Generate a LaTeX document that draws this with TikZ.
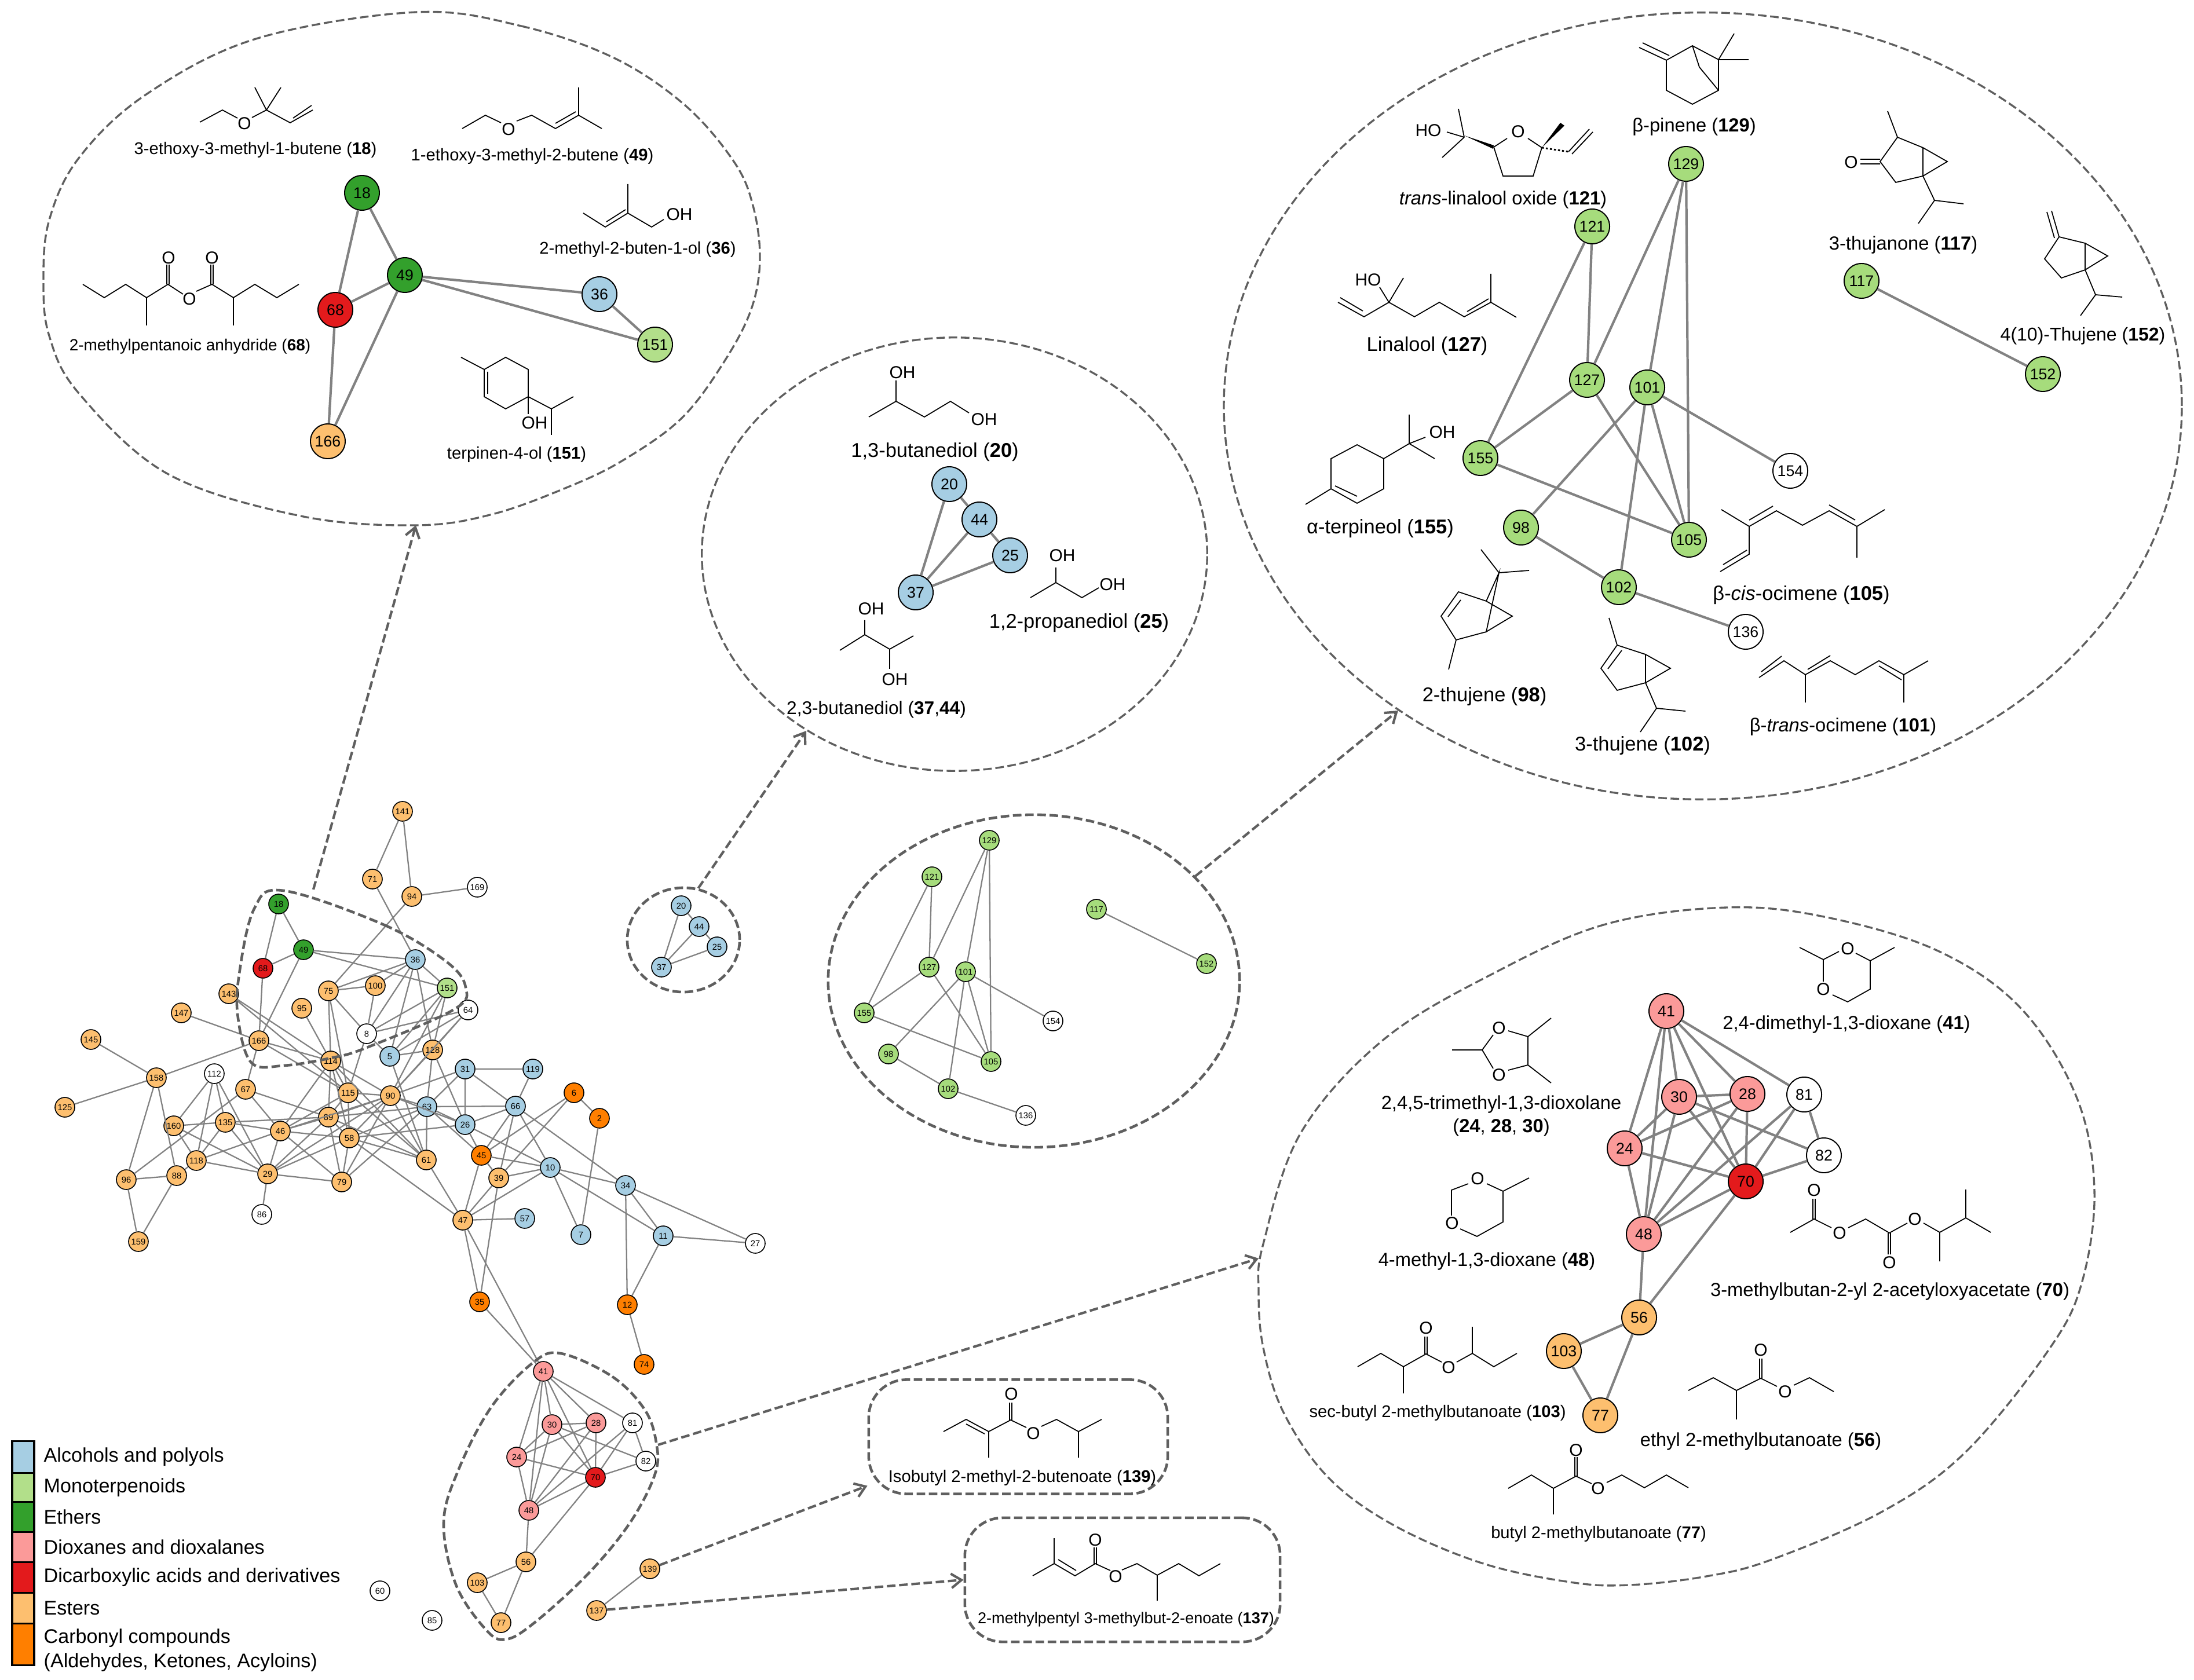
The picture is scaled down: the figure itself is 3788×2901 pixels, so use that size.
\documentclass[tikz,border=0pt]{standalone}
\usepackage{fontspec}
\setmainfont{Liberation Sans}
\setsansfont{Liberation Sans}
\usetikzlibrary{positioning, arrows.meta, shapes.geometric}

\definecolor{alcoholc}{HTML}{A6CEE3}
\definecolor{monoc}{HTML}{B2DF8A}
\definecolor{monodeep}{HTML}{A6DC7C}
\definecolor{etherc}{HTML}{33A02C}
\definecolor{dioxc}{HTML}{FB9A99}
\definecolor{dicarbc}{HTML}{E31A1C}
\definecolor{esterc}{HTML}{FDBF6F}
\definecolor{carbonylc}{HTML}{FF7F00}
\definecolor{dashgray}{HTML}{5F5F5F}
\definecolor{edgegray}{HTML}{828282}

\begin{document}
\begin{tikzpicture}[
		x=0.01cm, y=-0.01cm, font=\sffamily,
		% Define styles
		netnode/.style={circle, draw=black, line width=0.45pt, inner sep=0pt, minimum size=0.34cm, font=\sffamily\fontsize{4.2}{5}\selectfont},
		bignode/.style={circle, draw=black, line width=0.55pt, inner sep=0pt, minimum size=0.6cm, font=\sffamily\fontsize{7.6}{9}\selectfont},
		alcohol/.style={fill=alcoholc},
		mono/.style={fill=monoc},
		monob/.style={fill=monodeep},
		ether/.style={fill=etherc},
		diox/.style={fill=dioxc},
		dicarb/.style={fill=dicarbc},
		ester/.style={fill=esterc},
		carbonyl/.style={fill=carbonylc},
		unknown/.style={fill=white},
		netedge/.style={draw=edgegray, line width=0.65pt},
		bigedge/.style={draw=edgegray, line width=1.2pt},
		ringthin/.style={ellipse, draw=dashgray, line width=0.95pt, dash pattern=on 4.2pt off 1.8pt, inner sep=0pt},
		ringcurve/.style={draw=dashgray, line width=0.95pt, dash pattern=on 4.2pt off 1.8pt},
		ringthick/.style={ellipse, draw=dashgray, line width=1.3pt, dash pattern=on 4.2pt off 1.8pt, inner sep=0pt},
		blob/.style={draw=dashgray, line width=1.3pt, dash pattern=on 4.2pt off 1.8pt},
		namebox/.style={rectangle, rounded corners=0.65cm, draw=dashgray, line width=1.3pt, dash pattern=on 4.2pt off 1.8pt, inner sep=0pt},
		zoomarrow/.style={draw=dashgray, line width=1.2pt, dash pattern=on 4.2pt off 1.8pt, -{Straight Barb[length=5pt, width=7pt]}},
		bond/.style={draw=black, line width=0.5pt},
		atom/.style={inner sep=0pt, font=\sffamily\fontsize{8.5}{10}\selectfont},
		lab/.style={inner sep=0pt, align=center, font=\sffamily\fontsize{9.3}{11.4}\selectfont},
		labsmall/.style={inner sep=0pt, align=center, font=\sffamily\fontsize{8.3}{10}\selectfont},
		labbig/.style={inner sep=0pt, align=center, font=\sffamily\fontsize{9.8}{11.4}\selectfont},
		swatch/.style={rectangle, draw=black, line width=1pt, inner sep=0pt, outer sep=0pt, minimum width=0.38cm},
		legendtext/.style={inner sep=0pt, align=left, font=\sffamily\fontsize{9.7}{12}\selectfont}
		]
		\useasboundingbox (0,0) rectangle (3788,2901);
		
		% 1. Main network (esters)
		\node[netnode, ester] (m141) at (695,1401) {141};
		\node[netnode, ester] (m71) at (643,1518) {71};
		\node[netnode, ester] (m94) at (711,1548) {94};
		\node[netnode, ester] (m75) at (567,1711) {75};
		\node[netnode, ester] (m100) at (648,1702) {100};
		\node[netnode, ester] (m143) at (395,1716) {143};
		\node[netnode, ester] (m147) at (313,1749) {147};
		\node[netnode, ester] (m95) at (521,1741) {95};
		\node[netnode, ester] (m145) at (157,1795) {145};
		\node[netnode, ester] (m166) at (447,1797) {166};
		\node[netnode, ester] (m128) at (747,1813) {128};
		\node[netnode, ester] (m114) at (571,1832) {114};
		\node[netnode, ester] (m158) at (270,1861) {158};
		\node[netnode, ester] (m67) at (424,1881) {67};
		\node[netnode, ester] (m125) at (112,1912) {125};
		\node[netnode, ester] (m115) at (601,1887) {115};
		\node[netnode, ester] (m90) at (674,1892) {90};
		\node[netnode, ester] (m89) at (567,1929) {89};
		\node[netnode, ester] (m135) at (389,1938) {135};
		\node[netnode, ester] (m160) at (300,1944) {160};
		\node[netnode, ester] (m46) at (484,1953) {46};
		\node[netnode, ester] (m58) at (603,1965) {58};
		\node[netnode, ester] (m118) at (339,2004) {118};
		\node[netnode, ester] (m88) at (305,2030) {88};
		\node[netnode, ester] (m61) at (736,2003) {61};
		\node[netnode, ester] (m29) at (462,2027) {29};
		\node[netnode, ester] (m96) at (218,2037) {96};
		\node[netnode, ester] (m79) at (590,2041) {79};
		\node[netnode, ester] (m159) at (239,2144) {159};
		\node[netnode, ester] (m39) at (861,2034) {39};
		\node[netnode, ester] (m47) at (799,2107) {47};
		\node[netnode, ester] (m56) at (908,2697) {56};
		\node[netnode, ester] (m103) at (824,2733) {103};
		\node[netnode, ester] (m77) at (865,2802) {77};
		\node[netnode, ester] (m139) at (1122,2709) {139};
		\node[netnode, ester] (m137) at (1030,2781) {137};
		% Unassigned
		\node[netnode, unknown] (m169) at (824,1532) {169};
		\node[netnode, unknown] (m8) at (633,1785) {8};
		\node[netnode, unknown] (m112) at (370,1854) {112};
		\node[netnode, unknown] (m86) at (452,2097) {86};
		\node[netnode, unknown] (m64) at (808,1744) {64};
		\node[netnode, unknown] (m27) at (1304,2147) {27};
		\node[netnode, unknown] (m81) at (1092,2457) {81};
		\node[netnode, unknown] (m82) at (1115,2523) {82};
		\node[netnode, unknown] (m60) at (656,2747) {60};
		\node[netnode, unknown] (m85) at (746,2798) {85};
		% Alcohols
		\node[netnode, alcohol] (m36) at (717,1657) {36};
		\node[netnode, alcohol] (m5) at (673,1824) {5};
		\node[netnode, alcohol] (m31) at (803,1846) {31};
		\node[netnode, alcohol] (m119) at (920,1846) {119};
		\node[netnode, alcohol] (m66) at (890,1910) {66};
		\node[netnode, alcohol] (m63) at (737,1911) {63};
		\node[netnode, alcohol] (m26) at (803,1942) {26};
		\node[netnode, alcohol] (m10) at (950,2016) {10};
		\node[netnode, alcohol] (m34) at (1080,2047) {34};
		\node[netnode, alcohol] (m57) at (906,2104) {57};
		\node[netnode, alcohol] (m7) at (1003,2132) {7};
		\node[netnode, alcohol] (m11) at (1145,2134) {11};
		\node[netnode, alcohol] (m20) at (1176,1564) {20};
		\node[netnode, alcohol] (m44) at (1207,1600) {44};
		\node[netnode, alcohol] (m25) at (1238,1635) {25};
		\node[netnode, alcohol] (m37) at (1142,1670) {37};
		% Ethers, acids, dioxanes, carbonyls
		\node[netnode, ether] (m18) at (481,1561) {18};
		\node[netnode, ether] (m49) at (524,1640) {49};
		\node[netnode, dicarb] (m68) at (454,1672) {68};
		\node[netnode, dicarb] (m70) at (1028,2551) {70};
		\node[netnode, mono] (m151) at (772,1706) {151};
		\node[netnode, diox] (m41) at (938,2368) {41};
		\node[netnode, diox] (m30) at (953,2460) {30};
		\node[netnode, diox] (m28) at (1029,2457) {28};
		\node[netnode, diox] (m24) at (892,2516) {24};
		\node[netnode, diox] (m48) at (913,2608) {48};
		\node[netnode, carbonyl] (m6) at (991,1887) {6};
		\node[netnode, carbonyl] (m2) at (1035,1931) {2};
		\node[netnode, carbonyl] (m45) at (831,1995) {45};
		\node[netnode, carbonyl] (m35) at (828,2248) {35};
		\node[netnode, carbonyl] (m12) at (1083,2253) {12};
		\node[netnode, carbonyl] (m74) at (1112,2356) {74};
		% Monoterpenoid cluster
		\node[netnode, monob] (m129) at (1708,1451) {129};
		\node[netnode, monob] (m121) at (1609,1514) {121};
		\node[netnode, monob] (m117) at (1893,1570) {117};
		\node[netnode, monob] (m127) at (1604,1670) {127};
		\node[netnode, monob] (m101) at (1667,1678) {101};
		\node[netnode, monob] (m152) at (2083,1664) {152};
		\node[netnode, monob] (m155) at (1492,1749) {155};
		\node[netnode, unknown] (m154) at (1818,1763) {154};
		\node[netnode, monob] (m98) at (1534,1820) {98};
		\node[netnode, monob] (m105) at (1711,1833) {105};
		\node[netnode, monob] (m102) at (1637,1880) {102};
		\node[netnode, unknown] (m136) at (1771,1926) {136};
		
		% Network edges
		\draw[netedge] (m141) -- (m71) (m141) -- (m94) (m94) -- (m169) (m71) -- (m36) (m94) -- (m75);
		\draw[netedge] (m18) -- (m68) (m18) -- (m49) (m68) -- (m49) (m49) -- (m36) (m49) -- (m151) (m49) -- (m166) (m68) -- (m166);
		\draw[netedge] (m143) -- (m114) (m143) -- (m115) (m147) -- (m166) (m145) -- (m158) (m125) -- (m158) (m158) -- (m166) (m158) -- (m96) (m158) -- (m88);
		\draw[netedge] (m166) -- (m67) (m166) -- (m114) (m166) -- (m115) (m67) -- (m96) (m67) -- (m89) (m67) -- (m46);
		\draw[netedge] (m112) -- (m160) (m112) -- (m118) (m112) -- (m135) (m112) -- (m29);
		\draw[netedge] (m160) -- (m135) (m160) -- (m118) (m160) -- (m29) (m135) -- (m89) (m135) -- (m46) (m135) -- (m118) (m135) -- (m29);
		\draw[netedge] (m118) -- (m46) (m118) -- (m29) (m118) -- (m88) (m96) -- (m88) (m96) -- (m159) (m88) -- (m159);
		\draw[netedge] (m29) -- (m86) (m29) -- (m46) (m29) -- (m79) (m29) -- (m58) (m29) -- (m89) (m29) -- (m90);
		\draw[netedge] (m46) -- (m89) (m46) -- (m58) (m46) -- (m79) (m46) -- (m114) (m46) -- (m115) (m46) -- (m90);
		\draw[netedge] (m114) -- (m75) (m95) -- (m114) (m114) -- (m115) (m114) -- (m90) (m114) -- (m89) (m114) -- (m58) (m114) -- (m61);
		\draw[netedge] (m75) -- (m115) (m75) -- (m100) (m75) -- (m36) (m75) -- (m8) (m100) -- (m8) (m100) -- (m36);
		\draw[netedge] (m8) -- (m36) (m8) -- (m151) (m8) -- (m64) (m8) -- (m5) (m8) -- (m115);
		\draw[netedge] (m36) -- (m5) (m36) -- (m128) (m36) -- (m151) (m151) -- (m5) (m151) -- (m90) (m151) -- (m128) (m64) -- (m5) (m64) -- (m128) (m64) -- (m90);
		\draw[netedge] (m5) -- (m128) (m5) -- (m61) (m128) -- (m90) (m128) -- (m63) (m128) -- (m26);
		\draw[netedge] (m90) -- (m115) (m90) -- (m89) (m90) -- (m31) (m90) -- (m63) (m90) -- (m58) (m90) -- (m79) (m90) -- (m61) (m90) -- (m26);
		\draw[netedge] (m63) -- (m31) (m63) -- (m66) (m63) -- (m26) (m63) -- (m45) (m63) -- (m61) (m63) -- (m58) (m63) -- (m79) (m63) -- (m89);
		\draw[netedge] (m31) -- (m119) (m31) -- (m66) (m31) -- (m26) (m119) -- (m66) (m66) -- (m26) (m66) -- (m45) (m66) -- (m39) (m66) -- (m10) (m66) -- (m34);
		\draw[netedge] (m26) -- (m58) (m26) -- (m45) (m26) -- (m10) (m6) -- (m45) (m6) -- (m39) (m6) -- (m2) (m2) -- (m7);
		\draw[netedge] (m45) -- (m47) (m45) -- (m10) (m45) -- (m39) (m39) -- (m10) (m39) -- (m47) (m39) -- (m35) (m10) -- (m47) (m10) -- (m34) (m10) -- (m11) (m10) -- (m7);
		\draw[netedge] (m34) -- (m11) (m34) -- (m27) (m34) -- (m12) (m11) -- (m27) (m11) -- (m12) (m12) -- (m74);
		\draw[netedge] (m47) -- (m57) (m47) -- (m35) (m47) -- (m41) (m47) -- (m58) (m47) -- (m61) (m35) -- (m41);
		\draw[netedge] (m58) -- (m61) (m115) -- (m61) (m115) -- (m58) (m115) -- (m89) (m89) -- (m58) (m89) -- (m61) (m89) -- (m79) (m58) -- (m79);
		\draw[netedge] (m41) -- (m81) (m41) -- (m30) (m41) -- (m28) (m41) -- (m24) (m41) -- (m48) (m41) -- (m70);
		\draw[netedge] (m30) -- (m28) (m30) -- (m24) (m30) -- (m48) (m30) -- (m82) (m30) -- (m70) (m28) -- (m24) (m28) -- (m48) (m28) -- (m70);
		\draw[netedge] (m81) -- (m82) (m81) -- (m70) (m81) -- (m48) (m24) -- (m70) (m24) -- (m48) (m82) -- (m70) (m70) -- (m48) (m70) -- (m56) (m48) -- (m56);
		\draw[netedge] (m56) -- (m103) (m56) -- (m77) (m103) -- (m77) (m139) -- (m137);
		\draw[netedge] (m20) -- (m44) (m44) -- (m25) (m20) -- (m37) (m44) -- (m37) (m25) -- (m37);
		\draw[netedge] (m121) -- (m155) (m121) -- (m127) (m129) -- (m127) (m129) -- (m101) (m129) -- (m105) (m127) -- (m155) (m127) -- (m105);
		\draw[netedge] (m101) -- (m98) (m101) -- (m102) (m101) -- (m105) (m101) -- (m154) (m155) -- (m105) (m98) -- (m102) (m102) -- (m136) (m117) -- (m152);
		
		% 2. Outlines inside the network
		\draw[blob] plot[smooth cycle, tension=0.6] coordinates {(490,1538) (663,1597) (770,1660) (804,1705) (784,1743) (633,1809) (571,1827) (490,1840) (434,1835) (411,1758) (413,1682) (439,1569)};
		\draw[blob] plot[smooth cycle, tension=0.6] coordinates {(968,2337) (1057,2377) (1113,2434) (1133,2491) (1131,2545) (1088,2629) (1016,2717) (924,2801) (873,2831) (838,2813) (787,2736) (766,2629) (792,2537) (848,2430) (919,2354)};
		\coordinate (etherexit) at (541,1536);
		\coordinate (dioxexit) at (1136,2495);
		\node[ringthick, minimum width=1.94cm, minimum height=1.8cm] (ringsmall) at (1180,1623) {};
		\node[ringthick, minimum width=7.1cm, minimum height=5.74cm] (ringmid) at (1785,1694) {};
		
		% 3. Zoomed outlines
		\draw[ringcurve] plot[smooth cycle, tension=0.6] coordinates {(718,21) (900,45) (1060,100) (1183,182) (1267,279) (1300,355) (1312,447) (1297,534) (1250,625) (1177,722) (1077,794) (983,840) (850,888) (718,907) (519,891) (289,818) (136,679) (85,580) (75,485) (85,380) (136,273) (251,164) (442,67)};
		\coordinate (ringetherin) at (718,907);
		\node[ringthin, minimum width=8.72cm, minimum height=7.48cm] (ringdiol) at (1648,957) {};
		\node[ringthin, minimum width=16.53cm, minimum height=13.58cm] (ringterp) at (2940,701) {};
		\draw[ringcurve] plot[smooth cycle, tension=0.6] coordinates {(2982,1567) (2772,1596) (2580,1680) (2389,1795) (2246,1956) (2181,2148) (2173,2230) (2181,2327) (2216,2439) (2293,2551) (2405,2633) (2558,2699) (2711,2732) (2813,2737) (2946,2722) (3059,2693) (3250,2610) (3394,2507) (3537,2331) (3594,2216) (3616,2055) (3585,1894) (3489,1741) (3346,1642) (3154,1584)};
		\coordinate (ringdioxin) at (2173,2173);
		\node[namebox, minimum width=5.16cm, minimum height=1.97cm] (boxiso) at (1758,2481) {};
		\node[namebox, minimum width=5.44cm, minimum height=2.14cm] (boxmethyl) at (1938,2728) {};
		
		% Arrows from the network to the zooms
		\draw[zoomarrow] (etherexit) -- (ringetherin);
		\draw[zoomarrow] (ringsmall.74) -- (ringdiol.230);
		\draw[zoomarrow] (ringmid.33) -- (ringterp.225);
		\draw[zoomarrow] (dioxexit) -- (ringdioxin);
		\draw[zoomarrow] (m139) -- (boxiso.198);
		\draw[zoomarrow] (m137) -- (boxmethyl.west);
		
		% 4. Ether zoom
		\node[bignode, ether] (a18) at (625,333) {18};
		\node[bignode, ether] (a49) at (699,475) {49};
		\node[bignode, dicarb] (a68) at (579,535) {68};
		\node[bignode, alcohol] (a36) at (1035,508) {36};
		\node[bignode, mono] (a151) at (1131,595) {151};
		\node[bignode, ester] (a166) at (566,762) {166};
		\draw[bigedge] (a18) -- (a49) (a18) -- (a68) (a68) -- (a49) (a49) -- (a36) (a49) -- (a151) (a36) -- (a151) (a68) -- (a166) (a49) -- (a166);
		
		\draw[bond] (345,211) -- (384,190) -- (410,204) (435,203) -- (460,190) -- (501,212) -- (540,190) (506,204) -- (538,182) (460,190) -- (440,151) (460,190) -- (485,151);
		\node[atom] (oxy18) at (422,213) {O};
		\node[labsmall] (lab18) at (441,259) {3-ethoxy-3-methyl-1-butene (\textbf{18})};
		\draw[bond] (798,222) -- (838,199) -- (865,212) (892,209) -- (918,199) -- (959,222) -- (999,199) -- (1039,222) (999,199) -- (999,151) (959,213) -- (994,193);
		\node[atom] (oxy49) at (878,223) {O};
		\node[labsmall] (lab49) at (919,270) {1-ethoxy-3-methyl-2-butene (\textbf{49})};
		\draw[bond] (1007,368) -- (1045,392) -- (1084,368) -- (1125,392) -- (1146,379) (1084,368) -- (1084,318) (1047,383) -- (1080,362);
		\node[atom] (oh36) at (1173,370) {OH};
		\node[labsmall] (lab36) at (1101,431) {2-methyl-2-buten-1-ol (\textbf{36})};
		\draw[bond] (143,491) -- (180,514) -- (217,491) -- (253,514) -- (290,491) -- (316,508) (253,514) -- (253,562) (288,491) -- (288,457) (292,491) -- (292,457) (339,503) -- (366,491) -- (403,514) -- (440,491) -- (478,514) -- (516,491) (403,514) -- (403,562) (364,491) -- (364,457) (368,491) -- (368,457);
		\node[atom] (oxy68a) at (291,445) {O};
		\node[atom] (oxy68b) at (327,516) {O};
		\node[atom] (oxy68c) at (366,445) {O};
		\node[labsmall, font=\sffamily\fontsize{7.95}{10}\selectfont] (lab68) at (328,598) {2-methylpentanoic anhydride (\textbf{68})};
		\draw[bond] (836,638) -- (873,617) -- (912,638) -- (912,685) -- (873,706) -- (836,685) -- cycle (842,642) -- (842,680) (836,638) -- (796,617) (912,685) -- (912,715) (912,685) -- (952,706) -- (990,685) (952,706) -- (952,751);
		\node[atom] (oh151) at (923,730) {OH};
		\node[labsmall] (lab151) at (892,785) {terpinen-4-ol (\textbf{151})};
		
		% 5. Diol zoom
		\node[bignode, alcohol] (b20) at (1639,836) {20};
		\node[bignode, alcohol] (b44) at (1691,897) {44};
		\node[bignode, alcohol] (b25) at (1744,959) {25};
		\node[bignode, alcohol] (b37) at (1581,1023) {37};
		\draw[bigedge] (b20) -- (b44) (b44) -- (b25) (b20) -- (b37) (b44) -- (b37) (b25) -- (b37);
		
		\draw[bond] (1500,720) -- (1547,693) -- (1596,720) -- (1641,693) -- (1673,713) (1547,693) -- (1547,657);
		\node[atom] (oh20a) at (1558,643) {OH};
		\node[atom] (oh20b) at (1699,724) {OH};
		\node[labbig] (lab20) at (1614,781) {1,3-butanediol (\textbf{20})};
		\draw[bond] (1779,1032) -- (1823,1006) -- (1868,1032) -- (1897,1015) (1823,1006) -- (1823,980);
		\node[atom] (oh25a) at (1834,959) {OH};
		\node[atom] (oh25b) at (1921,1009) {OH};
		\node[labbig] (lab25) at (1863,1076) {1,2-propanediol (\textbf{25})};
		\draw[bond] (1450,1123) -- (1493,1096) -- (1536,1121) -- (1577,1098) (1493,1096) -- (1493,1071) (1536,1121) -- (1536,1155);
		\node[atom] (oh37a) at (1504,1051) {OH};
		\node[atom] (oh37b) at (1545,1173) {OH};
		\node[labbig, font=\sffamily\fontsize{9}{11}\selectfont] (lab37) at (1513,1225) {2,3-butanediol (\textbf{37},\textbf{44})};
		
		% 6. Terpene zoom
		\node[bignode, monob] (c129) at (2911,283) {129};
		\node[bignode, monob] (c121) at (2749,391) {121};
		\node[bignode, monob] (c117) at (3214,485) {117};
		\node[bignode, monob] (c127) at (2740,656) {127};
		\node[bignode, monob] (c101) at (2844,669) {101};
		\node[bignode, monob] (c152) at (3527,646) {152};
		\node[bignode, monob] (c155) at (2556,791) {155};
		\node[bignode, unknown] (c154) at (3091,813) {154};
		\node[bignode, monob] (c98) at (2626,911) {98};
		\node[bignode, monob] (c105) at (2916,932) {105};
		\node[bignode, monob] (c102) at (2795,1014) {102};
		\node[bignode, unknown] (c136) at (3014,1091) {136};
		\draw[bigedge] (c121) -- (c155) (c121) -- (c127) (c129) -- (c127) (c129) -- (c101) (c129) -- (c105) (c127) -- (c155) (c127) -- (c105);
		\draw[bigedge] (c101) -- (c98) (c101) -- (c102) (c101) -- (c105) (c101) -- (c154) (c155) -- (c105) (c98) -- (c102) (c102) -- (c136) (c117) -- (c152);
		
		\draw[bond] (2830,82) -- (2877,104) -- (2922,79) -- (2967,103) -- (2967,156) -- (2922,180) -- (2877,156) -- (2877,104) (2836,74) -- (2882,96) (2922,79) -- (2934,116) -- (2967,156) (2967,103) -- (2994,58) (2967,103) -- (3019,103);
		\node[lab] (lab129) at (2925,219) {β-pinene (\textbf{129})};
		\draw[bond] (2498,228) -- (2528,237) (2528,237) -- (2518,188) (2528,237) -- (2490,272) (2579,254) -- (2602,239) (2638,239) -- (2662,255) -- (2647,304) -- (2595,304) -- (2579,254) (2744,223) -- (2708,262) (2750,228) -- (2714,266);
		\fill (2528,234) -- (2579,251) -- (2578,257) -- cycle;
		\fill (2662,255) -- (2694,212) -- (2701,217) -- cycle;
		\draw[bond, dash pattern=on 1pt off 1pt, line width=0.8pt] (2662,255) -- (2708,262);
		\node[atom] (oh121) at (2466,225) {HO};
		\node[atom] (oxy121) at (2621,227) {O};
		\node[lab] (lab121) at (2595,345) {\textit{trans}-linalool oxide (\textbf{121})};
		\draw[bond] (2382,496) -- (2398,522) -- (2423,480) (2310,522) -- (2355,547) -- (2398,522) -- (2442,547) -- (2485,522) -- (2528,547) -- (2574,522) -- (2618,548) (2574,522) -- (2574,473) (2314,514) -- (2353,537) (2533,538) -- (2570,516);
		\node[atom] (oh127) at (2362,483) {HO};
		\node[labbig] (lab127) at (2464,598) {Linalool (\textbf{127})};
		\draw[bond] (2298,792) -- (2343,768) -- (2389,792) -- (2389,844) -- (2343,869) -- (2298,844) -- cycle (2305,839) -- (2343,857) (2298,844) -- (2254,871) (2389,792) -- (2433,766) -- (2433,716) (2433,766) -- (2477,792) (2433,766) -- (2461,755);
		\node[atom] (oh155) at (2490,746) {OH};
		\node[labbig] (lab155) at (2383,913) {α-terpineol (\textbf{155})};
		\draw[bond] (2557,949) -- (2588,989) -- (2640,985) (2588,989) -- (2566,1038) -- (2611,1064) -- (2566,1091) -- cycle (2566,1038) -- (2518,1022) -- (2488,1064) -- (2514,1105) -- (2566,1091) (2514,1105) -- (2501,1156) (2522,1036) -- (2500,1065);
		\node[labbig] (lab98) at (2563,1203) {2-thujene (\textbf{98})};
		\draw[bond] (2778,1067) -- (2792,1114) -- (2764,1154) -- (2792,1192) -- (2841,1179) -- (2841,1130) -- (2792,1114) (2841,1130) -- (2884,1154) -- (2841,1179) -- (2860,1223) -- (2910,1228) (2860,1223) -- (2832,1264) (2800,1123) -- (2776,1155);
		\node[labbig] (lab102) at (2836,1288) {3-thujene (\textbf{102})};
		\draw[bond] (2972,880) -- (3020,909) -- (3067,882) -- (3112,907) -- (3158,882) -- (3206,909) -- (3254,880) (3206,909) -- (3206,963) (3020,909) -- (3020,957) -- (2970,987) (3020,898) -- (3061,874) (3158,872) -- (3203,898) (3016,950) -- (2975,975);
		\node[labbig] (lab105) at (3110,1028) {β-\textit{cis}-ocimene (\textbf{105})};
		\draw[bond] (3037,1170) -- (3080,1141) -- (3117,1165) -- (3160,1141) -- (3203,1165) -- (3244,1141) -- (3287,1165) -- (3329,1141) (3117,1165) -- (3117,1213) (3287,1165) -- (3287,1213) (3041,1160) -- (3076,1133) (3121,1156) -- (3160,1132) (3244,1150) -- (3283,1174);
		\node[lab] (lab101) at (3182,1255) {β-\textit{trans}-ocimene (\textbf{101})};
		\draw[bond] (3259,192) -- (3276,237) -- (3246,279) -- (3273,315) -- (3320,304) -- (3320,255) -- (3276,237) (3320,255) -- (3362,279) -- (3320,304) -- (3340,346) -- (3390,352) (3340,346) -- (3312,386) (3212,275) -- (3246,275) (3212,283) -- (3246,283);
		\node[atom] (oxy117) at (3196,280) {O};
		\node[lab] (lab117) at (3286,423) {3-thujanone (\textbf{117})};
		\draw[bond] (3542,364) -- (3555,409) -- (3530,447) -- (3559,480) -- (3600,466) -- (3600,420) -- (3555,409) (3600,420) -- (3639,442) -- (3600,466) -- (3618,509) -- (3664,513) (3618,509) -- (3592,545) (3534,366) -- (3547,411);
		\node[lab, font=\sffamily\fontsize{9.1}{11}\selectfont] (lab152) at (3596,580) {4(10)-Thujene (\textbf{152})};
		
		% 7. Dioxane zoom
		\node[bignode, diox] (d41) at (2877,1746) {41};
		\node[bignode, diox] (d30) at (2899,1894) {30};
		\node[bignode, diox] (d28) at (3017,1889) {28};
		\node[bignode, unknown] (d81) at (3115,1890) {81};
		\node[bignode, diox] (d24) at (2805,1983) {24};
		\node[bignode, unknown] (d82) at (3149,1995) {82};
		\node[bignode, dicarb] (d70) at (3014,2040) {70};
		\node[bignode, diox] (d48) at (2838,2131) {48};
		\node[bignode, ester] (d56) at (2830,2275) {56};
		\node[bignode, ester] (d103) at (2700,2333) {103};
		\node[bignode, ester] (d77) at (2763,2444) {77};
		\draw[bigedge] (d41) -- (d81) (d41) -- (d30) (d41) -- (d28) (d41) -- (d24) (d41) -- (d48) (d41) -- (d70);
		\draw[bigedge] (d30) -- (d28) (d30) -- (d24) (d30) -- (d48) (d30) -- (d82) (d30) -- (d70) (d28) -- (d24) (d28) -- (d48) (d28) -- (d70);
		\draw[bigedge] (d81) -- (d82) (d81) -- (d70) (d81) -- (d48) (d24) -- (d70) (d24) -- (d48) (d82) -- (d70) (d70) -- (d48) (d70) -- (d56) (d48) -- (d56);
		\draw[bigedge] (d56) -- (d103) (d56) -- (d77) (d103) -- (d77);
		
		\draw[bond] (3107,1636) -- (3148,1657) -- (3148,1695) (3148,1657) -- (3175,1643) (3204,1646) -- (3229,1659) -- (3271,1636) (3229,1659) -- (3229,1708) -- (3190,1730) -- (3164,1718);
		\node[atom] (oxy41a) at (3190,1638) {O};
		\node[atom] (oxy41b) at (3148,1708) {O};
		\node[lab] (lab41) at (3188,1769) {2,4-dimethyl-1,3-dioxane (\textbf{41})};
		\draw[bond] (2507,1813) -- (2559,1813) -- (2578,1787) (2604,1780) -- (2638,1790) -- (2678,1758) (2638,1790) -- (2638,1839) -- (2678,1870) (2638,1839) -- (2604,1848) (2578,1845) -- (2559,1813);
		\node[atom] (oxy24a) at (2588,1775) {O};
		\node[atom] (oxy24b) at (2588,1856) {O};
		\node[lab] (lab24) at (2592,1927) {2,4,5-trimethyl-1,3-dioxolane\\(\textbf{24}, \textbf{28}, \textbf{30})};
		\draw[bond] (2535,2044) -- (2506,2055) -- (2506,2099) (2521,2122) -- (2550,2135) -- (2595,2110) -- (2595,2057) -- (2567,2044) (2595,2057) -- (2640,2034);
		\node[atom] (oxy48a) at (2551,2035) {O};
		\node[atom] (oxy48b) at (2507,2112) {O};
		\node[lab] (lab48) at (2567,2178) {4-methyl-1,3-dioxane (\textbf{48})};
		\draw[bond] (3091,2128) -- (3132,2105) -- (3162,2120) (3130,2105) -- (3130,2070) (3134,2105) -- (3134,2070) (3191,2120) -- (3221,2105) -- (3262,2129) -- (3293,2112) (3260,2129) -- (3260,2166) (3264,2129) -- (3264,2166) (3321,2112) -- (3349,2128) -- (3394,2103) -- (3437,2128) (3349,2128) -- (3349,2178) (3394,2103) -- (3394,2054);
		\node[atom] (oxy70a) at (3132,2055) {O};
		\node[atom] (oxy70b) at (3176,2129) {O};
		\node[atom] (oxy70c) at (3262,2180) {O};
		\node[atom] (oxy70d) at (3306,2105) {O};
		\node[lab] (lab70) at (3263,2230) {3-methylbutan-2-yl 2-acetyloxyacetate (\textbf{70})};
		\draw[bond] (2344,2360) -- (2384,2337) -- (2423,2360) -- (2462,2338) -- (2489,2352) (2423,2360) -- (2423,2406) (2460,2338) -- (2460,2308) (2464,2338) -- (2464,2308) (2515,2352) -- (2542,2337) -- (2579,2360) -- (2619,2337) (2542,2337) -- (2542,2291);
		\node[atom] (oxy103a) at (2462,2293) {O};
		\node[atom] (oxy103b) at (2501,2361) {O};
		\node[labsmall] (lab103) at (2482,2440) {sec-butyl 2-methylbutanoate (\textbf{103})};
		\draw[bond] (2915,2401) -- (2958,2379) -- (2998,2401) -- (3040,2380) -- (3068,2394) (2998,2401) -- (2998,2451) (3038,2380) -- (3038,2346) (3042,2380) -- (3042,2346) (3097,2392) -- (3124,2379) -- (3166,2403);
		\node[atom] (oxy56a) at (3040,2331) {O};
		\node[atom] (oxy56b) at (3082,2403) {O};
		\node[lab] (lab56) at (3040,2489) {ethyl 2-methylbutanoate (\textbf{56})};
		\draw[bond] (2604,2570) -- (2644,2547) -- (2682,2570) -- (2721,2549) -- (2748,2562) (2682,2570) -- (2682,2615) (2719,2549) -- (2719,2516) (2723,2549) -- (2723,2516) (2774,2560) -- (2800,2547) -- (2839,2569) -- (2877,2547) -- (2915,2569);
		\node[atom] (oxy77a) at (2721,2504) {O};
		\node[atom] (oxy77b) at (2759,2570) {O};
		\node[labsmall] (lab77) at (2760,2649) {butyl 2-methylbutanoate (\textbf{77})};
		
		% 8. Boxed esters
		\draw[bond] (1629,2472) -- (1668,2451) -- (1707,2472) -- (1745,2452) -- (1772,2465) (1668,2459) -- (1700,2476) (1707,2472) -- (1707,2517) (1743,2452) -- (1743,2422) (1747,2452) -- (1747,2422) (1798,2463) -- (1824,2451) -- (1862,2472) -- (1902,2451) (1862,2472) -- (1862,2517);
		\node[atom] (oxy139a) at (1746,2407) {O};
		\node[atom] (oxy139b) at (1784,2475) {O};
		\node[labsmall] (lab139) at (1765,2552) {Isobutyl 2-methyl-2-butenoate (\textbf{139})};
		\draw[bond] (1783,2721) -- (1820,2700) -- (1856,2721) -- (1891,2700) -- (1917,2712) (1820,2700) -- (1820,2656) (1827,2693) -- (1858,2712) (1889,2700) -- (1889,2672) (1893,2700) -- (1893,2672) (1937,2711) -- (1963,2700) -- (1998,2720) -- (2035,2700) -- (2070,2721) -- (2107,2700) (1998,2720) -- (1998,2764);
		\node[atom] (oxy137a) at (1891,2659) {O};
		\node[atom] (oxy137b) at (1926,2722) {O};
		\node[labsmall, font=\sffamily\fontsize{7.7}{10}\selectfont] (lab137) at (1944,2796) {2-methylpentyl 3-methylbut-2-enoate (\textbf{137})};
		
		% 9. Legend
		\node[swatch, fill=alcoholc, minimum height=0.55cm] (swalcohol) at (40,2516) {};
		\node[swatch, fill=monoc, minimum height=0.5cm, below=0pt of swalcohol] (swmono) {};
		\node[swatch, fill=etherc, minimum height=0.52cm, below=0pt of swmono] (swether) {};
		\node[swatch, fill=dioxc, minimum height=0.52cm, below=0pt of swether] (swdiox) {};
		\node[swatch, fill=dicarbc, minimum height=0.53cm, below=0pt of swdiox] (swdicarb) {};
		\node[swatch, fill=esterc, minimum height=0.53cm, below=0pt of swdicarb] (swester) {};
		\node[swatch, fill=carbonylc, minimum height=0.72cm, below=0pt of swester] (swcarbonyl) {};
		\node[legendtext, right=0.16cm of swalcohol] (txalcohol) {Alcohols and polyols};
		\node[legendtext, right=0.16cm of swmono] (txmono) {Monoterpenoids};
		\node[legendtext, right=0.16cm of swether] (txether) {Ethers};
		\node[legendtext, right=0.16cm of swdiox] (txdiox) {Dioxanes and dioxalanes};
		\node[legendtext, right=0.16cm of swdicarb] (txdicarb) {Dicarboxylic acids and derivatives};
		\node[legendtext, right=0.16cm of swester] (txester) {Esters};
		\node[legendtext, right=0.16cm of swcarbonyl, yshift=-0.1cm] (txcarbonyl) {Carbonyl compounds\\(Aldehydes, Ketones, Acyloins)};
		
	\end{tikzpicture}
\end{document}
